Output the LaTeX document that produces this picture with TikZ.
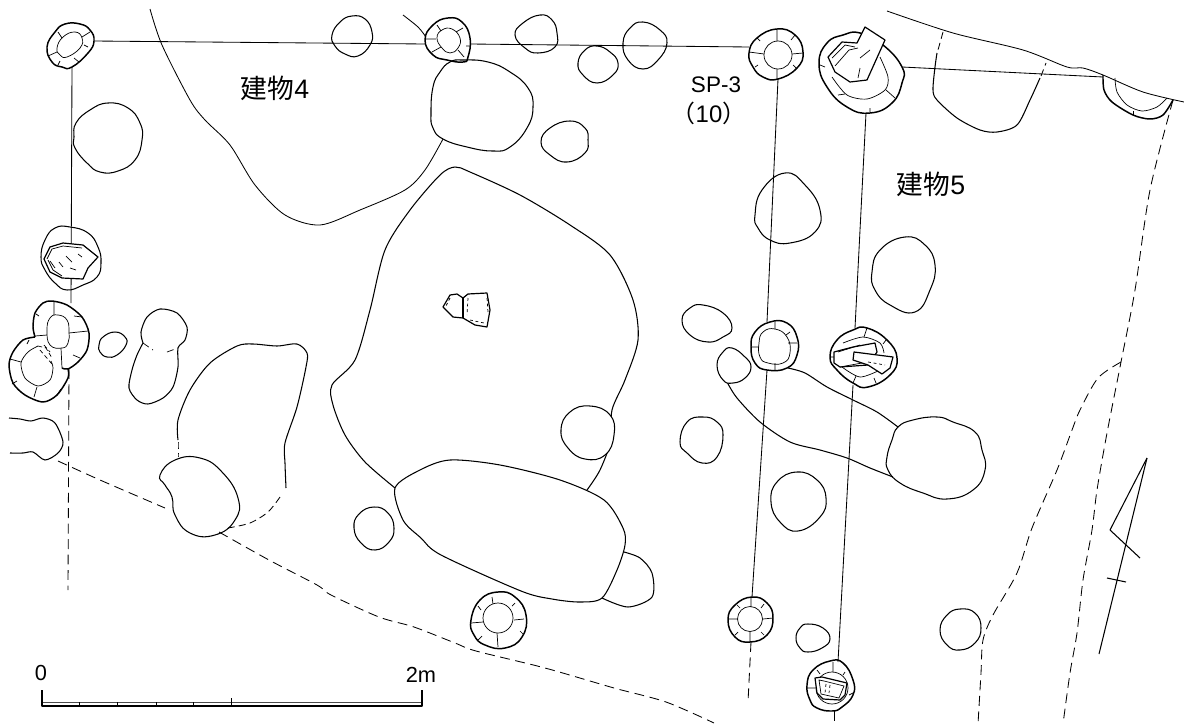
\documentclass[tikz,border=0pt]{standalone}
\usepackage{fontspec}
\setmainfont{Liberation Sans}
\newfontfamily\cjk{Noto Sans CJK JP}
\tikzset{
  pit/.style={line width=0.75pt,line join=round},
  hole/.style={line width=1.05pt,line join=round},
  thinline/.style={line width=0.5pt},
  postline/.style={line width=0.6pt},
  dashline/.style={line width=0.6pt,dash pattern=on 7pt off 4pt},
  stone/.style={line width=0.85pt,line join=round,fill=white},
  roundcycle/.style={smooth cycle,tension=0.8},
  plantext/.style={inner sep=0pt,font=\fontsize{16}{18}\selectfont},
  nametext/.style={inner sep=0pt,font=\fontsize{19}{21}\selectfont},
  scaletext/.style={inner sep=0pt,font=\fontsize{15.5}{17}\selectfont}
}
\newcommand{\pitshape}[1]{\draw [pit,fill=white] plot [roundcycle] coordinates {#1};}
\newcommand{\openpit}[1]{\draw [pit] plot [roundcycle] coordinates {#1};}
\begin{document}
\begin{tikzpicture}[x=0.025cm,y=-0.025cm]
  \useasboundingbox (0,0) rectangle (1184,724);
  % Boundary lines.
  \draw [postline] plot [smooth] coordinates {(150,9) (162,45) (190,100) (205,120) (230,145) (255,185) (285,215) (320,225) (360,210) (405,190) (425,170) (443,139)};
  \draw [postline] plot [smooth] coordinates {(403,15) (418,27) (426,37)};
  \draw [postline] plot [smooth] coordinates {(887,11) (953,33) (1023,50) (1067,67) (1083,68) (1103,75) (1143,92) (1184,102)};
  \draw [dashline] plot [smooth] coordinates {(58,461) (100,480) (165,508)};
  \draw [dashline] plot [smooth] coordinates {(219,532) (269,560) (317,585) (331,595) (379,617) (414,627) (455,643) (476,651) (545,668) (614,688) (666,702) (714,723)};
  \draw [dashline] plot [smooth] coordinates {(1173,100) (1150,190) (1135,290) (1121,362) (1107,433) (1097,490) (1092,530) (1083,580) (1077,633) (1070,673) (1063,724)};
  \draw [dashline] plot [smooth] coordinates {(1121,362) (1098,378) (1080,410) (1072,430) (1057,470) (1032,528) (1017,573) (993,615) (983,640) (981,673) (978,724)};
  % Large pits.
  \openpit{(450,62) (463,60) (488,62) (510,72) (528,88) (533,107) (527,128) (510,147) (493,151) (467,147) (443,139) (433,128) (431,113) (433,87) (440,72)}
  \draw [pit] plot [smooth] coordinates {(395,488) (365,462) (345,435) (333,405) (332,385) (355,360) (370,310) (385,250) (410,210) (440,175) (455,167) (470,172) (520,195) (570,225) (610,255) (633,300) (638,340) (625,380) (612,410) (611,440) (600,470) (587,490)};
  \draw [pit,fill=white] plot [smooth cycle] coordinates {(395,488) (420,470) (450,460) (500,465) (560,480) (604,500) (623,528) (625,545) (617,570) (602,598) (580,602) (552,599) (521,591) (441,555) (421,538) (403,520)};
  \draw [pit] plot [smooth] coordinates {(624,552) (640,558) (652,573) (652,597) (628,607) (602,598)};
  \draw [pit] plot [smooth] coordinates {(178,440) (178,420) (190,390) (210,363) (237,346) (253,344) (277,346) (297,344) (307,353) (306,367) (297,407) (285,443) (285,463) (286,488)};
  \draw [dashline,dash pattern=on 5pt off 3pt] plot [smooth] coordinates {(178,442) (178,457)};
  \draw [dashline,dash pattern=on 5pt off 3pt] plot [smooth] coordinates {(280,497) (268,512) (250,523) (228,528)};
  \openpit{(160,475) (175,460) (200,458) (222,472) (238,498) (235,520) (215,535) (190,533) (175,515) (172,497) (165,485)}
  % Trench and big pit on the right.
  \draw [pit] plot [smooth] coordinates {(788,368) (805,373) (827,387) (853,400) (877,412) (898,427)};
  \draw [pit] plot [smooth] coordinates {(727,382) (737,398) (760,422) (790,442) (820,450) (847,458) (870,468) (893,477)};
  \openpit{(898,427) (913,420) (937,417) (953,422) (975,432) (982,450) (985,470) (973,490) (947,499) (923,493) (900,483) (888,470) (887,457) (892,440)}
  \draw [dashline,dash pattern=on 5pt off 3pt] (943,32) -- (938,50);
  \draw [pit] plot [smooth] coordinates {(937,53) (935,67) (933,90) (937,100) (957,118) (980,130) (997,132) (1017,125) (1030,100) (1040,78)};
  \draw [dashline,dash pattern=on 5pt off 3pt] (1041,76) -- (1046,63);
  % Post lines.
  \draw [postline] (94,41) -- (425,44);
  \draw [postline] (470,44) -- (749,47);
  \draw [postline] (902,67) -- (1103,77);
  \draw [postline] (72,67) -- (71,303);
  \draw [postline] (778,79) -- (767,322);
  \draw [postline] (767,370) -- (752,597);
  \draw [postline] (866,113) -- (855,328);
  \draw [postline] (853,385) -- (838,662);
  \draw [dashline] (69,369) -- (68,590);
  \draw [dashline] (751,642) -- (748,702);
  \draw [dashline] (834,711) -- (834,724);
  % Small pits.
  \openpit{(332,35) (340,22) (352,16) (365,19) (372,32) (370,45) (358,56) (345,54) (335,46)}
  \openpit{(515,35) (523,23) (540,15) (552,20) (557,33) (555,47) (538,53) (525,48)}
  \openpit{(578,63) (585,50) (597,46) (610,52) (618,63) (613,75) (597,83) (583,75)}
  \openpit{(623,43) (630,28) (643,22) (660,30) (667,43) (658,60) (643,69) (628,60)}
  \openpit{(541,142) (550,128) (570,121) (585,128) (588,140) (585,153) (567,162) (550,155)}
  \openpit{(74,137) (76,123) (90,110) (108,103) (128,108) (140,123) (142,140) (135,160) (118,171) (100,172) (87,163) (75,148)}
  \openpit{(99,345) (103,337) (115,332) (125,337) (126,345) (117,355) (107,357) (100,352)}
  \pitshape{(561,430) (570,412) (590,406) (610,415) (614,435) (605,455) (585,459) (568,448)}
  \openpit{(354,528) (359,514) (374,507) (388,513) (394,528) (389,542) (375,550) (361,543)}
  \openpit{(755,215) (762,190) (785,173) (805,185) (820,210) (815,232) (790,243) (770,240) (758,228)}
  \openpit{(872,272) (880,250) (905,237) (925,245) (935,265) (930,290) (915,312) (890,305) (875,290)}
  \openpit{(682,320) (690,308) (703,305) (723,313) (732,328) (723,337) (708,342) (690,335)}
  \pitshape{(717,365) (723,352) (732,348) (745,357) (751,367) (745,378) (733,383) (723,380)}
  \openpit{(680,442) (687,422) (703,417) (717,422) (723,435) (717,457) (702,463) (687,453)}
  \openpit{(771,502) (777,482) (797,472) (817,480) (826,498) (820,517) (798,531) (780,522)}
  \openpit{(796,638) (800,628) (808,624) (823,628) (830,639) (822,648) (808,652) (800,648)}
  \openpit{(940,630) (947,615) (960,609) (975,613) (981,628) (975,643) (960,650) (947,645)}
  % Peanut pit and the pit at the left edge.
  \draw [pit] plot [smooth] coordinates {(143,343) (141,332) (147,317) (160,309) (177,313) (187,327) (185,340) (178,348) (178,367) (173,387) (163,398) (148,404) (137,400) (129,388) (132,370) (137,355) (143,343)};
  \draw [thinline,dash pattern=on 5pt off 3pt] (143,343) -- (153,350) (167,352) -- (178,348);
  \draw [pit] plot [smooth] coordinates {(9,418) (20,419) (31,421) (43,418) (55,423) (63,442) (58,453) (45,460) (33,452) (23,453) (10,453)};
  % Post holes, top row.
  \draw [hole] plot [roundcycle] coordinates {(47,47) (55,32) (65,24) (80,24) (90,30) (94,41) (88,53) (72,67) (62,67) (52,62)};
  \draw [thinline] plot [roundcycle] coordinates {(57,48) (63,37) (75,32) (82,38) (80,48) (67,57) (60,55)};
  \draw [thinline] (58,32) -- (62,38) (90,32) -- (82,37) (48,56) -- (57,52) (74,58) -- (79,62) (88,47) -- (84,45) (58,65) -- (60,61);
  \draw [hole] plot [roundcycle] coordinates {(425,40) (433,25) (448,18) (462,22) (470,38) (468,57) (463,62) (447,60) (433,55)};
  \draw [thinline] plot [roundcycle] coordinates {(437,38) (442,30) (452,29) (460,38) (458,48) (450,53) (442,48)};
  \draw [thinline] (437,25) -- (441,31) (463,28) -- (456,32) (432,52) -- (441,47) (458,50) -- (464,57) (470,46) -- (466,46) (426,39) -- (436,39);
  \draw [hole] plot [roundcycle] coordinates {(749,53) (757,38) (777,29) (795,35) (803,52) (797,68) (778,79) (763,77) (753,67)};
  \draw [thinline] (778,55) circle [radius=14];
  \draw [thinline] (777,29) -- (777,41) (749,52) -- (764,54) (803,53) -- (792,54) (777,79) -- (777,69) (757,38) -- (760,41) (795,35) -- (791,40) (755,67) -- (758,65) (796,68) -- (793,65);
  % Hole with the large stone, top right.
  \draw [hole] plot [roundcycle] coordinates {(819,63) (827,43) (843,35) (860,33) (883,45) (902,67) (902,83) (892,103) (870,113) (847,107) (827,87)};
  \draw [thinline] plot [smooth] coordinates {(880,57) (888,77) (885,90) (867,99) (847,95) (832,77)};
  \draw [thinline] (838,95) -- (845,94) (886,90) -- (895,98) (870,108) -- (870,112) (820,65) -- (825,67);
  \draw [stone] (828,57) -- (842,42) -- (857,43) -- (865,27) -- (885,40) -- (867,80) -- (850,82) -- (835,72) -- cycle;
  \draw [thinline] (832,58) -- (845,45) -- (855,47) (835,66) -- (849,50) -- (858,48) (858,78) -- (860,68) (870,50) -- (860,58);
  % Hole on the right edge.
  \draw [hole] plot [smooth] coordinates {(1103,75) (1104,90) (1112,102) (1133,115) (1150,119) (1163,115) (1173,100)};
  \draw [thinline] plot [smooth] coordinates {(1115,78) (1117,92) (1127,105) (1142,111) (1157,107) (1167,98)};
  \draw [thinline] (1133,111) -- (1133,115);
  % Post holes, left edge.
  \draw [pit] plot [roundcycle] coordinates {(41,257) (45,240) (55,228) (70,227) (88,233) (98,247) (101,263) (97,277) (83,285) (67,290) (55,283) (45,270)};
  \draw [stone] (44,259) -- (50,247) -- (63,243) -- (83,245) -- (98,257) -- (88,268) -- (83,279) -- (62,278) -- (50,272) -- cycle;
  \draw [thinline] (47,259) -- (52,249) -- (63,246) -- (82,248) (48,260) -- (53,270) -- (62,276);
  \draw [thinline] (50,261) -- (55,268) (59,262) -- (63,267) (66,256) -- (72,262) (78,254) -- (82,257) (70,268) -- (76,270);
  \draw [hole] plot [smooth] coordinates {(35,337) (33,327) (35,313) (43,303) (52,301) (67,305) (82,317) (89,333) (87,350) (78,362) (68,369) (62,368)};
  \draw [thinline] plot [roundcycle] coordinates {(47,330) (50,318) (58,315) (67,320) (69,332) (68,343) (62,348) (50,345)};
  \draw [thinline] (54,302) -- (54,315) (69,333) -- (88,331) (82,317) -- (74,316) (36,314) -- (39,316) (61,348) -- (62,368) (35,336) -- (47,335) (73,355) -- (80,358);
  \draw [hole] plot [smooth] coordinates {(35,337) (23,340) (13,352) (9,365) (13,383) (25,395) (43,402) (57,395) (68,378) (68,369)};
  \draw [thinline] plot [smooth] coordinates {(38,346) (28,352) (21,363) (25,378) (38,386) (50,380) (53,368) (51,361)};
  \draw [thinline,dash pattern=on 3pt off 2pt] (38,346) -- (46,348) -- (52,358) (40,350) -- (52,364) (44,345) -- (50,352);
  \draw [thinline] (10,359) -- (21,362) (37,387) -- (34,397) (12,384) -- (17,381) (57,395) -- (61,389) (27,344) -- (29,340);
  % Hole by the trench.
  \draw [hole] plot [roundcycle] coordinates {(751,347) (755,332) (770,322) (787,323) (797,337) (797,355) (787,368) (767,370) (755,363)};
  \draw [thinline] plot [roundcycle] coordinates {(759,343) (763,332) (775,329) (787,337) (790,353) (783,363) (768,363) (760,357)};
  \draw [thinline] (752,347) -- (759,347) (775,322) -- (775,329) (797,343) -- (788,343) (775,370) -- (775,363) (790,332) -- (786,335);
  % Hole with two stones.
  \draw [hole] plot [roundcycle] coordinates {(830,357) (837,340) (853,330) (867,328) (887,340) (897,358) (890,375) (868,387) (853,383) (837,370)};
  \draw [thinline] plot [smooth] coordinates {(843,343) (863,337) (880,343) (884,353)};
  \draw [thinline] plot [smooth] coordinates {(842,367) (860,377) (880,370)};
  \draw [thinline] (867,328) -- (864,337) (886,340) -- (883,344) (853,383) -- (856,376) (831,357) -- (834,357) (876,383) -- (874,378);
  \draw [stone] (834,352) -- (853,347) -- (875,343) -- (877,352) -- (868,365) -- (840,367) -- (834,363) -- cycle;
  \draw [thinline] (840,367) -- (862,363) (838,352) -- (860,345);
  \draw [stone] (854,352) -- (893,357) -- (890,368) -- (882,374) -- (868,365) -- (853,360) -- cycle;
  \draw [thinline,dash pattern=on 2pt off 2pt] (868,362) -- (885,365);
  % Ringed holes in the lower row.
  \draw [hole] plot [roundcycle] coordinates {(471,620) (480,600) (498,592) (515,597) (526,615) (522,637) (505,648) (485,645) (474,635)};
  \draw [thinline] (498,618) circle [radius=15];
  \draw [thinline] (492,597) -- (493,604) (471,623) -- (483,622) (514,620) -- (524,619) (497,633) -- (498,647) (478,606) -- (481,610) (515,603) -- (512,606) (478,640) -- (482,636) (523,634) -- (520,631);
  \draw [hole] plot [roundcycle] coordinates {(728,620) (735,605) (752,597) (767,603) (773,618) (767,635) (750,642) (735,637)};
  \draw [thinline] (750,619) circle [radius=12.5];
  \draw [thinline] (751,597) -- (751,607) (728,619) -- (738,619) (763,619) -- (773,618) (750,642) -- (750,632) (737,605) -- (740,608) (764,604) -- (761,608) (735,635) -- (738,632) (764,635) -- (761,632);
  \draw [hole] plot [roundcycle] coordinates {(807,685) (813,670) (830,661) (843,663) (853,680) (853,695) (842,707) (832,711) (817,708) (810,700)};
  \draw [thinline] (832,688) circle [radius=16];
  \draw [thinline] (833,662) -- (833,672) (807,688) -- (815,688) (849,695) -- (853,693) (817,670) -- (820,674) (845,672) -- (843,675);
  \draw [stone] (815,678) -- (822,677) -- (847,683) -- (845,695) -- (840,700) -- (823,699) -- (817,693) -- cycle;
  \draw [thinline] (819,680) -- (821,694) -- (839,698) -- (844,686) -- (824,681) -- cycle;
  \draw [thinline,dash pattern=on 2pt off 2pt] (826,684) -- (825,693) (830,685) -- (829,693);
  % Pottery in the middle.
  \draw [stone] (443,307) -- (450,295) -- (457,294) -- (463,298) -- (468,294) -- (487,293) -- (490,310) -- (487,327) -- (475,325) -- (463,318) -- (453,317) -- (448,312) -- cycle;
  \draw [pit] (463,298) -- (463,318);
  \draw [thinline,dash pattern=on 2pt off 2pt] (450,298) -- (446,306) (468,298) -- (467,315) (470,320) -- (484,323) (487,298) -- (488,312);
  % North arrow.
  \draw [pit] (1147,458) -- (1110,530) -- (1140,558);
  \draw [pit] (1147,458) -- (1099,654);
  \draw [pit] (1107,578) -- (1126,582);
  % Scale bar.
  \draw [line width=0.7pt,draw=black!70] (42,702) -- (422,702);
  \draw [pit] (42,690) -- (42,706) -- (422,706) -- (422,690);
  \draw [thinline] (79,702) -- (79,706) (117,702) -- (117,706) (156,702) -- (156,706) (193,702) -- (193,706) (231,698) -- (231,706);
  % Labels.
  \node [nametext] (building4) at (275,88) {{\cjk 建物}4};
  \node [nametext] (building5) at (931,184) {{\cjk 建物}5};
  \node [plantext] (spThree) at (716,85) {SP-3};
  \node [plantext,font=\fontsize{17}{19}\selectfont] (spDepth) at (709,113) {{\cjk （}10{\cjk ）}};
  \node [scaletext] (scaleZero) at (41,673) {0};
  \node [scaletext] (scaleTwo) at (421,675) {2m};
\end{tikzpicture}
\end{document}
